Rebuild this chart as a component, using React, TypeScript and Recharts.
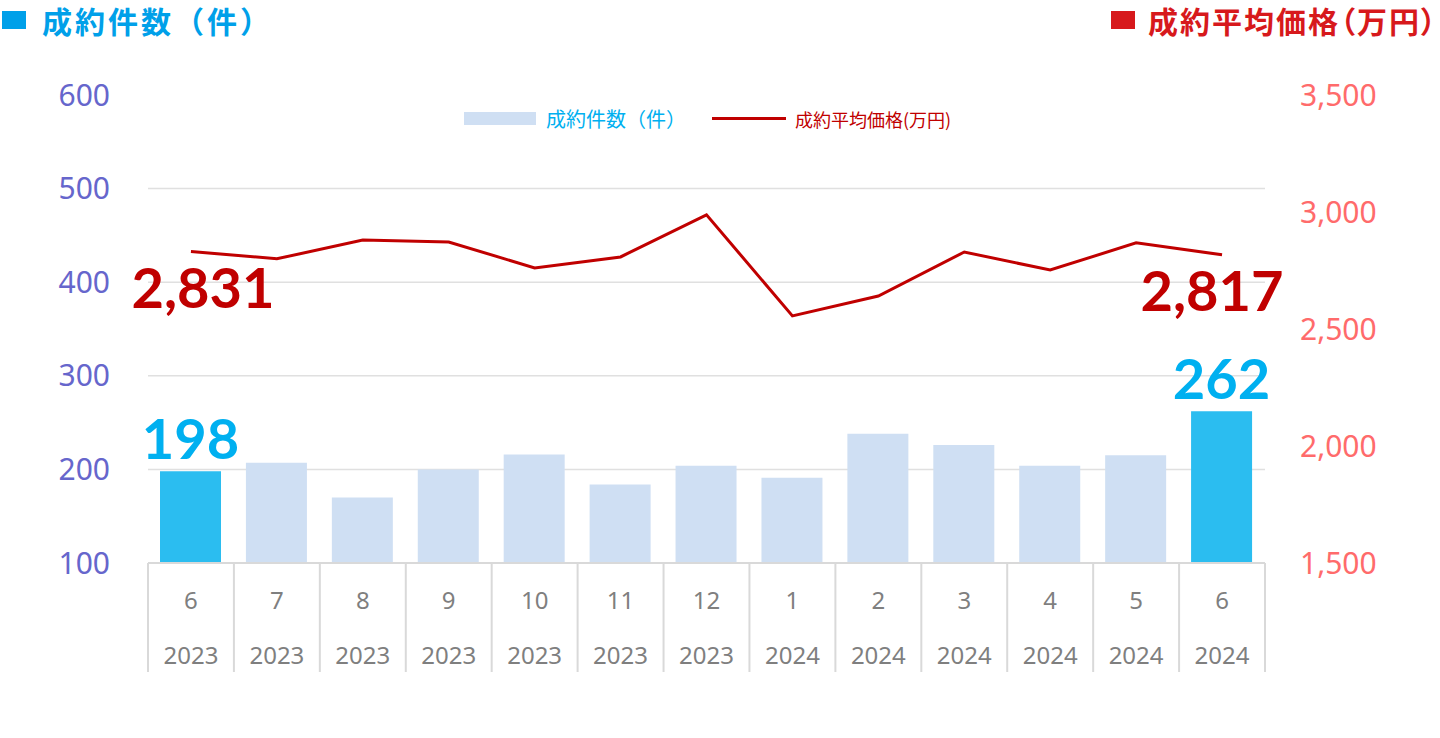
import React from 'react';
import {
    ComposedChart,
    Bar,
    Line,
    Cell,
    XAxis,
    YAxis,
    CartesianGrid,
    Legend,
    LabelList,
} from 'recharts';

const months = ['6', '7', '8', '9', '10', '11', '12', '1', '2', '3', '4', '5', '6'];
const years = ['2023', '2023', '2023', '2023', '2023', '2023', '2023', '2024', '2024', '2024', '2024', '2024', '2024'];
const counts = [198, 207, 170, 200, 216, 184, 204, 191, 238, 226, 204, 215, 262];
const prices = [2831, 2800, 2880, 2872, 2761, 2808, 2988, 2556, 2641, 2829, 2752, 2868, 2817];

const countTicks = [100, 200, 300, 400, 500, 600];
const priceTicks = [1500, 2000, 2500, 3000, 3500];

const data = months.map((m, i) => ({
    idx: i,
    month: m,
    year: years[i],
    count: counts[i],
    price: prices[i],
}));

const W = 1440;
const H = 738;
const margin = { top: 95, right: 35, bottom: 65, left: 58 };
const leftAxisW = 90;
const rightAxisW = 140;
const plotW = W - margin.left - margin.right - leftAxisW - rightAxisW;
const band = plotW / months.length;

const NUM_FONT = '"Noto Sans", "Open Sans", sans-serif';
const JP_FONT = '"Noto Sans CJK JP", "Noto Sans", sans-serif';
const LABEL_FONT = 'Lato, "Noto Sans", sans-serif';

const BLUE = '#00b0f0';
const RED = '#c00000';
const last = months.length - 1;

// two-row category axis with separators like the excel multi-level axis
const CategoryTick = (props: any) => {
    const { x, y, index } = props;
    const left = x - band / 2;
    return (
        <g>
            <line x1={left} y1={y} x2={left} y2={y + 109} stroke="#d9d9d9" strokeWidth={2} />
            {index === last && (
                <line x1={x + band / 2} y1={y} x2={x + band / 2} y2={y + 109} stroke="#d9d9d9" strokeWidth={2} />
            )}
            <text x={x} y={y + 46} textAnchor="middle" fill="#7f7f7f" fontSize={24} fontFamily={NUM_FONT}>
                {months[index]}
            </text>
            <text x={x} y={y + 101} textAnchor="middle" fill="#7f7f7f" fontSize={24} fontFamily={NUM_FONT}>
                {years[index]}
            </text>
        </g>
    );
};

const BarValueLabel = (props: any) => {
    const { x, y, width, index, value } = props;
    if (index !== 0 && index !== last) return null;
    return (
        <text x={x + width / 2} y={y - 12} textAnchor="middle" fill={BLUE} fontSize={56} fontWeight={700} fontFamily={LABEL_FONT}>
            {value}
        </text>
    );
};

const LineValueLabel = (props: any) => {
    const { x, y, index, value } = props;
    if (index !== 0 && index !== last) return null;
    const dx = index === 0 ? 12 : -10;
    return (
        <text x={x + dx} y={y + 56} textAnchor="middle" fill={RED} fontSize={56} fontWeight={700} fontFamily={LABEL_FONT}>
            {Number(value).toLocaleString('en-US')}
        </text>
    );
};

const LegendContent = () => (
    <div style={{ display: 'flex', alignItems: 'center', fontFamily: JP_FONT, whiteSpace: 'nowrap' }}>
        <span style={{ display: 'inline-block', width: 72, height: 13, background: '#cfdff3', marginRight: 10 }} />
        <span style={{ color: BLUE, fontSize: 20 }}>成約件数（件）</span>
        <span style={{ display: 'inline-block', width: 74, height: 3, background: RED, marginLeft: 26, marginRight: 9 }} />
        <span style={{ color: RED, fontSize: 18 }}>成約平均価格(万円)</span>
    </div>
);

export default function App() {
    return (
        <div style={{ position: 'absolute', left: 0, top: 0, width: W, height: H, background: '#ffffff' }}>
            <div style={{ position: 'absolute', left: 2, top: 11, width: 24, height: 18, background: '#00a0e9' }} />
            <div
                style={{
                    position: 'absolute', left: 42, top: 0, fontSize: 30, lineHeight: '40px', fontWeight: 700,
                    color: '#00a0e9', fontFamily: JP_FONT, letterSpacing: 3, whiteSpace: 'nowrap',
                }}
            >
                成約件数（件）
            </div>
            <div style={{ position: 'absolute', left: 1111, top: 11, width: 24, height: 18, background: '#d7191c' }} />
            <div
                style={{
                    position: 'absolute', left: 1148, top: 0, fontSize: 30, lineHeight: '40px', fontWeight: 700,
                    color: '#d7191c', fontFamily: JP_FONT, letterSpacing: 2, whiteSpace: 'nowrap',
                    fontFeatureSettings: '"palt"',
                }}
            >
                成約平均価格（万円）
            </div>

            <ComposedChart width={W} height={H} data={data} margin={margin}>
                <CartesianGrid
                    yAxisId="left"
                    vertical={false}
                    horizontalValues={[200, 300, 400, 500]}
                    stroke="#e0e0e0"
                    strokeWidth={1.5}
                />
                <XAxis
                    dataKey="idx"
                    height={110}
                    interval={0}
                    tickSize={0}
                    tickMargin={0}
                    tickLine={false}
                    axisLine={{ stroke: '#d9d9d9', strokeWidth: 2 }}
                    tick={<CategoryTick />}
                />
                <YAxis
                    yAxisId="left"
                    orientation="left"
                    width={leftAxisW}
                    domain={[100, 600]}
                    ticks={countTicks}
                    interval={0}
                    axisLine={false}
                    tickLine={false}
                    tickSize={6}
                    tickMargin={32}
                    tick={{ fill: '#6666cc', fontSize: 30, fontFamily: NUM_FONT }}
                />
                <YAxis
                    yAxisId="right"
                    orientation="right"
                    width={rightAxisW}
                    domain={[1500, 3500]}
                    ticks={priceTicks}
                    interval={0}
                    axisLine={false}
                    tickLine={false}
                    tickSize={6}
                    tickMargin={29}
                    tick={{ fill: '#ff6b6b', fontSize: 30, fontFamily: NUM_FONT, textAnchor: 'start' }}
                    tickFormatter={(v) => Number(v).toLocaleString('en-US')}
                />
                <Legend
                    verticalAlign="middle"
                    align="center"
                    content={<LegendContent />}
                    wrapperStyle={{ top: 104, left: 464, width: 'auto' }}
                />
                <Bar yAxisId="left" dataKey="count" name="成約件数（件）" barSize={61} isAnimationActive={false}>
                    {data.map((d, i) => (
                        <Cell key={i} fill={i === 0 || i === last ? '#2bbdf0' : '#cfdff3'} />
                    ))}
                    <LabelList dataKey="count" content={<BarValueLabel />} />
                </Bar>
                <Line
                    yAxisId="right"
                    dataKey="price"
                    name="成約平均価格(万円)"
                    type="linear"
                    stroke={RED}
                    strokeWidth={3}
                    dot={false}
                    activeDot={false}
                    isAnimationActive={false}
                >
                    <LabelList dataKey="price" content={<LineValueLabel />} />
                </Line>
            </ComposedChart>
        </div>
    );
}
